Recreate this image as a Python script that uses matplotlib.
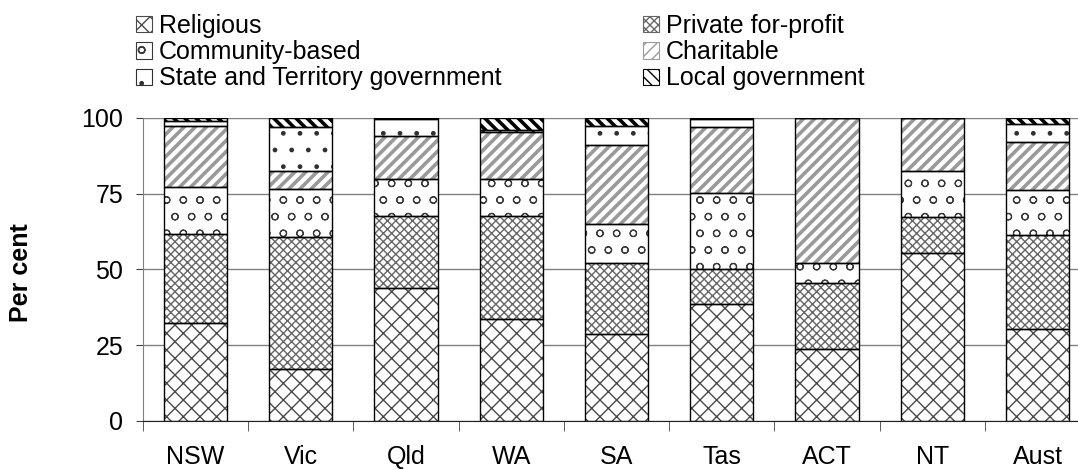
"""Stacked bar chart of service providers by ownership, per jurisdiction."""

import numpy as np
import matplotlib

matplotlib.use("Agg")
import matplotlib.pyplot as plt
from matplotlib.patches import Patch

plt.rcParams["font.family"] = ["Liberation Sans", "DejaVu Sans"]

states = ["NSW", "Vic", "Qld", "WA", "SA", "Tas", "ACT", "NT", "Aust"]

religious = [32.4, 17.1, 43.8, 33.6, 28.7, 38.5, 23.6, 55.5, 30.3]
private = [29.3, 43.7, 23.9, 34.2, 23.3, 11.6, 21.8, 11.7, 31.1]
community = [15.5, 15.7, 12.1, 12.0, 12.9, 25.0, 6.6, 15.3, 14.8]
charitable = [20.2, 6.1, 14.3, 15.6, 26.2, 21.8, 48.0, 17.5, 16.0]
state_govt = [1.6, 14.5, 5.6, 0.6, 6.3, 2.6, 0.0, 0.0, 5.8]
local_govt = [1.0, 2.9, 0.3, 4.0, 2.6, 0.5, 0.0, 0.0, 2.0]

# name, values, hatch, hatch colour, hatch line width
series = [
    ("Religious", religious, "xx", "#4a4a4a", 1.0),
    ("Private for-profit", private, "xxxx", "#666666", 1.0),
    ("Community-based", community, "o", "#3a3a3a", 0.8),
    ("Charitable", charitable, "///", "#9a9a9a", 2.6),
    ("State and Territory government", state_govt, ".", "#303030", 1.0),
    ("Local government", local_govt, "\\\\\\", "#000000", 2.6),
]

fig = plt.figure(figsize=(10.78, 4.70), dpi=100)
ax = fig.add_axes([0.1324, 0.1043, 0.879, 0.6447])

x = np.arange(len(states))
width = 0.6
bottom = np.zeros(len(states))
handles = {}
for name, vals, hatch, color, hlw in series:
    vals = np.array(vals)
    with plt.rc_context({"hatch.linewidth": hlw}):
        # hatch drawn with its own colour, outline drawn black on top
        bars = ax.bar(x, vals, width, bottom=bottom, color="white",
                      edgecolor=color, hatch=hatch, linewidth=0, zorder=2)
        handles[name] = Patch(facecolor="white", edgecolor=color,
                              hatch=hatch, linewidth=0.8)
    for b in bars:
        if hasattr(b, "set_hatch_linewidth"):
            b.set_hatch_linewidth(hlw)
    if hasattr(handles[name], "set_hatch_linewidth"):
        handles[name].set_hatch_linewidth(hlw)
    ax.bar(x, vals, width, bottom=bottom, fill=False, edgecolor="black",
           linewidth=1.0, zorder=3)
    bottom += vals

ax.set_xlim(-0.5, len(states) - 0.5)
ax.set_ylim(0, 100)
ax.set_yticks([0, 25, 50, 75, 100])
ax.set_xticks(x)
ax.set_xticklabels(states)
ax.set_xticks(np.arange(-0.5, len(states), 1.0), minor=True)
ax.tick_params(axis="x", which="major", length=0, pad=17, labelsize=18)
ax.tick_params(axis="x", which="minor", length=7, direction="out",
               color="#404040")
ax.tick_params(axis="y", length=5, direction="out", pad=9, labelsize=18,
               color="#404040")

ax.yaxis.grid(True, color="#808080", linewidth=1.0)
ax.set_axisbelow(True)
for side in ("top", "right"):
    ax.spines[side].set_visible(False)
ax.spines["left"].set_color("#808080")
ax.spines["bottom"].set_color("#202020")

ax.set_ylabel("Per cent", fontsize=18, fontweight="bold")
ax.yaxis.set_label_coords(-0.116, 0.49)

left_names = ["Religious", "Community-based", "State and Territory government"]
right_names = ["Private for-profit", "Charitable", "Local government"]
for names, xpos in ((left_names, 136 / 1078), (right_names, 643 / 1078)):
    fig.legend([handles[n] for n in names], names, loc="upper left",
               bbox_to_anchor=(xpos, 1 - 14 / 470), frameon=False, fontsize=18,
               handlelength=0.62, handleheight=0.62, handletextpad=0.3,
               labelspacing=0.09, borderpad=0, borderaxespad=0)

fig.savefig("out.png", dpi=100, facecolor="white")
